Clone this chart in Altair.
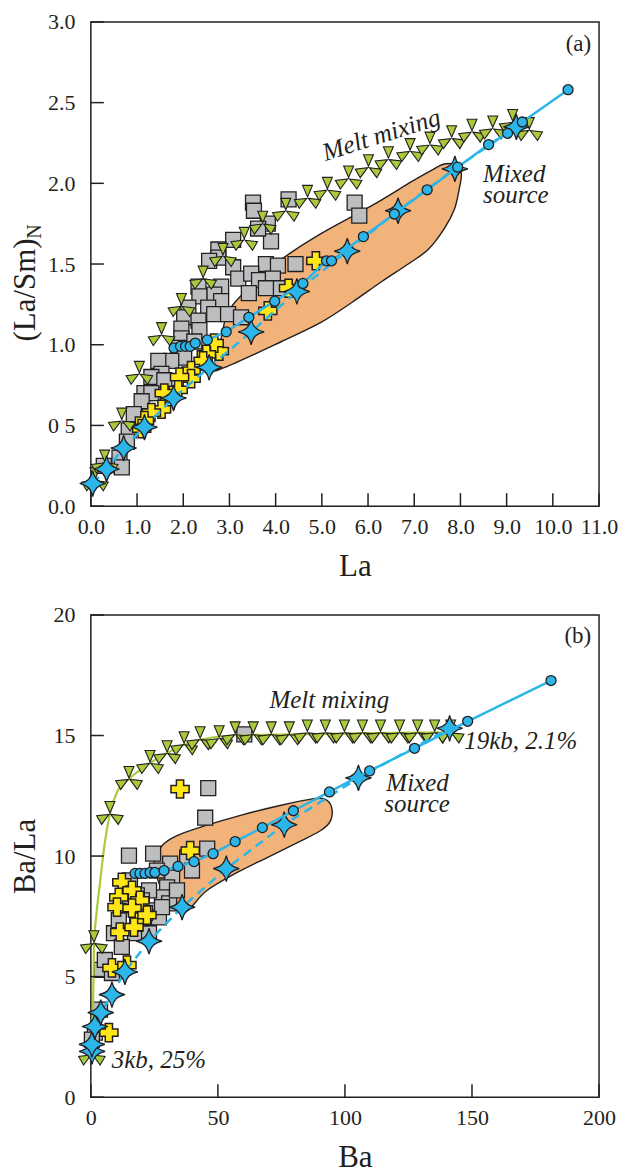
import altair as alt
import pandas as pd

# ---------------- Panel (a): La vs (La/Sm)N ----------------
a_sq_la = [3.51,3.53,4.28,3.83,3.90,3.62,3.08,2.76,2.76,2.56,3.79,4.05,3.08,3.19,3.47,3.64,3.94,4.11,3.79,3.42,
           2.82,2.67,2.33,2.35,2.82,2.54,2.67,2.97,3.25,2.11,2.02,2.33,2.35,1.96,1.96,2.24,1.89,2.02,1.74,1.46,
           1.53,1.31,1.59,1.16,1.31,1.10,0.93,0.82,0.78,0.62,0.67,0.28,5.71,5.81,4.43]
a_sq_r = [1.88,1.83,1.90,1.75,1.64,1.72,1.65,1.59,1.54,1.52,1.50,1.49,1.48,1.41,1.44,1.40,1.41,1.35,1.35,1.32,
          1.36,1.31,1.36,1.30,1.27,1.23,1.19,1.19,1.17,1.23,1.17,1.15,1.09,1.10,1.04,1.02,0.98,0.92,0.90,0.90,
          0.82,0.80,0.78,0.70,0.70,0.65,0.57,0.47,0.40,0.30,0.24,0.25,1.88,1.80,1.50]
a_cr_la = [4.87,4.28,3.83,2.78,2.67,2.50,2.43,2.17,2.17,1.92,1.89,1.59,1.53,1.31,1.16,1.10]
a_cr_r = [1.52,1.35,1.21,0.96,1.01,0.94,0.90,0.84,0.79,0.80,0.72,0.70,0.60,0.58,0.53,0.48]
a_tf_la = [0.09,0.30,0.67,1.05,1.53,1.96,2.43,2.86,3.32,3.72,4.22,4.69,5.12,5.58,6.01,6.44,6.91,7.34,7.81,8.25,8.70,9.13,9.49]
a_tf_r = [0.16,0.27,0.53,0.82,1.06,1.24,1.41,1.55,1.65,1.75,1.83,1.91,1.96,2.03,2.10,2.15,2.20,2.24,2.28,2.32,2.34,2.38,2.33]
a_st_la = [0.04,0.34,0.71,1.16,1.79,2.56,3.47,4.46,5.55,6.65,7.88,9.21]
a_st_r = [0.14,0.23,0.36,0.49,0.67,0.86,1.08,1.33,1.58,1.83,2.09,2.35]
a_ci_la = [1.80,1.94,2.05,2.15,2.26,2.52,2.93,3.42,3.98,4.59,5.10,5.21,5.90,6.57,7.28,7.94,8.61,9.02,9.34,10.33]
a_ci_r = [0.98,0.99,0.99,0.99,1.01,1.03,1.08,1.17,1.27,1.38,1.52,1.52,1.67,1.81,1.96,2.10,2.24,2.31,2.38,2.58]
a_poly_la = [2.66,2.83,2.98,3.48,4.13,4.99,6.07,6.94,7.37,7.65,7.91,8.02,7.97,7.87,7.65,7.30,6.87,6.29,5.64,4.99,4.13,2.90]
a_poly_r = [0.86,1.05,1.21,1.37,1.53,1.69,1.86,2.01,2.08,2.12,2.11,2.06,1.96,1.84,1.72,1.59,1.50,1.39,1.26,1.14,1.02,0.86]
a_xticks = [0,1,2,3,4,5,6,7,8,9,10,11]
a_yticks = [0,0.5,1.0,1.5,2.0,2.5,3.0]

# ---------------- Panel (b): Ba vs Ba/La ----------------
b_sq_ba = [46.2,45.0,60.4,15.0,24.5,37.9,45.8,31.2,39.8,32.0,30.0,28.0,30.8,22.9,20.1,24.9,26.8,9.1,11.0,21.3,
           28.0,17.4,12.2,22.9,4.3,5.5,8.3,3.6,1.6,0.4,15.4,18.1,13.0,26.0,33.9]
b_sq_r = [12.82,11.59,15.05,10.02,10.10,9.94,10.31,9.69,9.40,9.11,8.70,8.29,8.04,8.58,8.16,7.75,7.46,6.80,7.34,7.63,
          7.88,6.80,6.23,6.80,5.28,5.69,5.15,3.63,2.68,2.39,8.99,8.37,7.96,9.40,8.58]
b_cr_ba = [35.1,39.1,12.2,16.2,11.0,19.3,10.3,16.2,18.9,11.4,17.0,8.3,14.2,7.1,22.1]
b_cr_r = [12.78,10.23,8.91,8.58,8.29,8.16,7.88,7.84,7.26,6.85,7.05,5.36,5.48,2.68,7.55]
b_tf_ba = [0.4,1.2,7.5,15.0,23.3,30.0,36.7,43.0,50.5,56.8,63.9,71.0,78.1,85.2,92.3,99.8,106.9,114.0,121.5,128.6,135.3,141.6]
b_tf_r = [1.77,6.39,11.75,13.20,13.86,14.27,14.64,14.85,14.89,15.05,15.05,15.05,15.05,15.13,15.13,15.13,15.13,15.13,15.13,15.13,15.13,15.13]
b_mc_ba = [0.4,0.9,1.3,2.2,3.5,5.3,7.5,10.5,15.0,23.3,30.0,40.0,56.8,80.0,110.0,141.6]
b_mc_r = [1.8,4.0,6.4,7.6,8.8,10.4,11.75,12.7,13.2,13.86,14.27,14.75,15.0,15.05,15.1,15.13]
b_st_ba = [0.5,0.4,1.6,3.9,8.3,13.4,22.9,35.9,53.3,76.1,105.3,141.2]
b_st_r = [1.90,2.19,2.93,3.51,4.25,5.20,6.47,7.88,9.48,11.30,13.24,15.30]
b_ci_ba = [17.4,19.3,21.3,23.3,25.2,28.8,34.3,40.6,48.1,56.8,67.5,79.7,93.9,109.7,127.4,148.3,181.1]
b_ci_r = [9.28,9.28,9.28,9.32,9.32,9.40,9.57,9.77,10.10,10.60,11.18,11.88,12.66,13.53,14.47,15.59,17.28]
b_poly_ba = [24.9,28.0,33.9,43.8,59.6,75.3,87.2,91.9,94.7,94.3,90.3,81.3,69.4,57.6,45.8,39.1,35.9,32.0,27.2]
b_poly_r = [9.73,10.43,10.85,11.22,11.71,12.12,12.37,12.37,12.04,11.46,11.05,10.56,9.94,9.32,8.58,7.84,7.63,7.96,8.78]
b_xticks = [0,50,100,150,200]
b_yticks = [0,5,10,15,20]

# ---------------- styling ----------------
FONT = "Liberation Serif"
INK = "#231F20"
GREY = "#BCBEC0"
YELLOW = "#FFE617"
BLUE = "#2BB5E8"
GREEN = "#A9CB3B"
ORANGE = "#F2B37B"
W = 509
HA = 485
HB = 483
TICK = 13

STAR = ("M0,-1 C0.13,-0.4 0.4,-0.13 1,0 C0.4,0.13 0.13,0.4 0,1 "
        "C-0.13,0.4 -0.4,0.13 -1,0 C-0.4,-0.13 -0.13,-0.4 0,-1 Z")
TREFOIL = ("M0,-0.08 L-0.4,-1 L0.4,-1 Z "
           "M0.07,0.04 L1.066,0.154 L0.666,0.846 Z "
           "M-0.07,0.04 L-0.666,0.846 L-1.066,0.154 Z")


def df(xs, ys):
    return pd.DataFrame({"x": xs, "y": ys, "i": list(range(len(xs)))})


def panel(H, xdom, ydom, xvals, yvals, xfmt, ylabexpr, xtitle, ytitle, ytitle_y,
          sq, cr, tf, st, ci, poly, curve, texts):
    xs = alt.Scale(domain=xdom, nice=False, zero=False)
    ys = alt.Scale(domain=ydom, nice=False, zero=False)
    xaxis = alt.Axis(values=xvals, format=xfmt, title=xtitle, ticks=False, domain=False,
                     grid=False, labelPadding=10, labelOverlap=False, labelFlush=False,
                     titleX=W / 2 + 10, titleY=69,
                     titleBaseline="alphabetic", titleAlign="center")
    yaxis = alt.Axis(values=yvals, labelExpr=ylabexpr, title=ytitle, ticks=False,
                     domain=False, grid=False, labelPadding=16, labelOverlap=False,
                     labelFlush=False, titleAngle=270,
                     titleX=-56, titleY=ytitle_y, titleAlign="center",
                     titleBaseline="alphabetic")
    X = alt.X("x:Q", scale=xs, axis=xaxis)
    Y = alt.Y("y:Q", scale=ys, axis=yaxis)
    layers = []
    layers.append(
        alt.Chart(df(*poly)).mark_line(interpolate="cardinal-closed", fill=ORANGE, stroke=INK,
                                       strokeWidth=1.4)
        .encode(x=X, y=Y, order="i:Q"))
    layers.append(
        alt.Chart(df(*sq)).mark_point(shape="square", filled=True, fill=GREY, stroke=INK,
                                      strokeWidth=1.3, size=225, opacity=1)
        .encode(x=X, y=Y))
    layers.append(
        alt.Chart(df(*cr)).mark_point(shape="cross", filled=True, fill=YELLOW, stroke=INK,
                                      strokeWidth=1.5, size=330, opacity=1)
        .encode(x=X, y=Y))
    if curve is not None:
        layers.append(
            alt.Chart(df(*curve)).mark_line(color=GREEN, strokeWidth=2.2, interpolate="monotone")
            .encode(x=X, y=Y, order="i:Q"))
    layers.append(
        alt.Chart(df(*tf)).mark_point(shape=TREFOIL, filled=True, fill=GREEN, stroke=INK,
                                      strokeWidth=1.1, size=620, opacity=1)
        .encode(x=X, y=Y))
    layers.append(
        alt.Chart(df(*st)).mark_line(color=BLUE, strokeWidth=2.5, strokeDash=[9, 6])
        .encode(x=X, y=Y, order="i:Q"))
    layers.append(
        alt.Chart(df(*st)).mark_point(shape=STAR, filled=True, fill=BLUE, stroke=INK,
                                      strokeWidth=1.2, size=680, opacity=1)
        .encode(x=X, y=Y))
    layers.append(
        alt.Chart(df(*ci)).mark_line(color=BLUE, strokeWidth=2.5)
        .encode(x=X, y=Y, order="i:Q"))
    layers.append(
        alt.Chart(df(*ci)).mark_point(shape="circle", filled=True, fill=BLUE, stroke=INK,
                                      strokeWidth=1.3, size=100, opacity=1)
        .encode(x=X, y=Y))
    for (label, tx, ty, kw) in texts:
        layers.append(
            alt.Chart(pd.DataFrame({"x": [tx], "y": [ty]}))
            .mark_text(text=label, font=FONT, color=INK, **kw)
            .encode(x=X, y=Y))
    # inward ticks
    layers.append(
        alt.Chart(pd.DataFrame({"x": xvals})).mark_rule(color=INK, strokeWidth=1.5)
        .encode(x=X, y=alt.value(H), y2=alt.value(H - TICK)))
    layers.append(
        alt.Chart(pd.DataFrame({"y": yvals})).mark_rule(color=INK, strokeWidth=1.5)
        .encode(y=Y, x=alt.value(0), x2=alt.value(TICK)))
    return layers


ital = dict(fontStyle="italic", fontSize=25, baseline="alphabetic")

texts_a = [
    ("(a)", 10.83, 2.817, dict(fontSize=23, align="right", baseline="alphabetic")),
    ("Melt mixing", 6.29, 2.30, dict(fontStyle="italic", fontSize=25.5, align="center",
                                      baseline="middle", angle=342.5)),
    ("Mixed", 8.49, 2.010, dict(align="left", **ital)),
    ("source", 8.49, 1.878, dict(align="left", **ital)),
]
texts_b = [
    ("(b)", 196.9, 18.82, dict(fontSize=23, align="right", baseline="alphabetic")),
    ("Melt mixing", 70.3, 16.13, dict(align="left", **ital)),
    ("19kb, 2.1%", 147.0, 14.43, dict(align="left", **ital)),
    ("Mixed", 116.3, 12.70, dict(align="left", **ital)),
    ("source", 115.5, 11.82, dict(align="left", **ital)),
    ("3kb, 25%", 8.25, 1.22, dict(align="left", **ital)),
]

layers_a = panel(HA, [0, 11], [0, 3], a_xticks, a_yticks, ".1f",
                 "datum.value == 0.5 ? '0 5' : format(datum.value, '.1f')",
                 "La", "(La/Sm)", 268,
                 (a_sq_la, a_sq_r), (a_cr_la, a_cr_r), (a_tf_la, a_tf_r), (a_st_la, a_st_r),
                 (a_ci_la, a_ci_r), (a_poly_la, a_poly_r), None, texts_a)
# subscript N of the y title
layers_a.append(
    alt.Chart(pd.DataFrame({"k": [0]})).mark_text(text="N", font=FONT, fontSize=20, color=INK,
                                                  angle=270, align="center", baseline="alphabetic")
    .encode(x=alt.value(-50), y=alt.value(210)))

layers_b = panel(HB, [0, 200], [0, 20], b_xticks, b_yticks, "d",
                 "format(datum.value, 'd')",
                 "Ba", "Ba/La", HB / 2,
                 (b_sq_ba, b_sq_r), (b_cr_ba, b_cr_r), (b_tf_ba, b_tf_r), (b_st_ba, b_st_r),
                 (b_ci_ba, b_ci_r), (b_poly_ba, b_poly_r), (b_mc_ba, b_mc_r), texts_b)

pa = alt.layer(*layers_a).properties(width=W, height=HA)
pb = alt.layer(*layers_b).properties(width=W, height=HB)

chart = (
    alt.vconcat(pa, pb, spacing=21)
    .properties(padding={"left": 9, "top": 9, "right": 0, "bottom": 0}, background="white")
    .configure_view(stroke=INK, strokeWidth=1.5)
    .configure_axis(labelFont=FONT, labelFontSize=22, labelColor=INK, titleFont=FONT,
                    titleFontSize=31, titleFontWeight="normal", titleColor=INK)
)

chart.save("out.html", embed_options={"renderer": "svg", "actions": False})
